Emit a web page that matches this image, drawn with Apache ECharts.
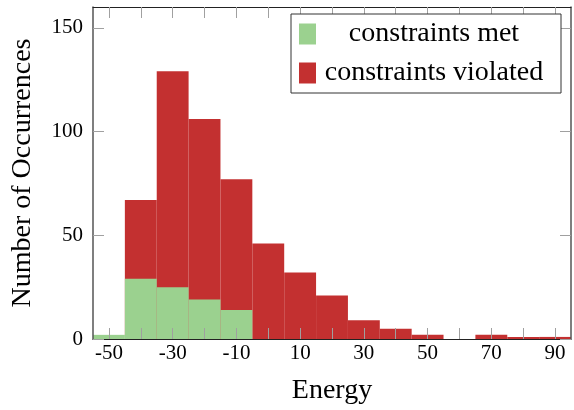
<!DOCTYPE html>
<html>
<head>
<meta charset="utf-8">
<script src="https://cdn.jsdelivr.net/npm/echarts@6/dist/echarts.min.js"></script>
<style>html,body{margin:0;padding:0;background:#fff}#c{width:574px;height:410px}</style>
</head>
<body>
<div id="c"></div>
<script>
// Histogram bin edges (width 10)
const binEdges = [-55, -45, -35, -25, -15, -5, 5, 15, 25, 35, 45, 55, 65, 75, 85, 95];
// counts per bin
const metCounts = [2, 29, 25, 19, 14, 0, 0, 0, 0, 0, 0, 0, 0, 0, 0];
const violatedCounts = [0, 67, 129, 106, 77, 46, 32, 21, 9, 5, 2, 0, 2, 1, 1];
// axis ticks / labels
const xTicks = [-50, -40, -30, -20, -10, 0, 10, 20, 30, 40, 50, 60, 70, 80, 90];
const xLabels = [-50, -30, -10, 10, 30, 50, 70, 90];
const yTicks = [0, 50, 100, 150];
const seriesNames = ['constraints met', 'constraints violated'];
const colors = ['#9bd18f', '#c33030'];

function rows(counts) {
  return counts.map((v, i) => [binEdges[i], binEdges[i + 1], v]);
}
function renderBin(params, api) {
  const v = api.value(2);
  if (!v) return null;
  const p0 = api.coord([api.value(0), 0]);
  const p1 = api.coord([api.value(1), v]);
  return {
    type: 'rect',
    shape: { x: p0[0], y: p1[1], width: p1[0] - p0[0], height: p0[1] - p1[1] },
    style: { fill: api.visual('color') }
  };
}

const FONT = '"Liberation Serif", "Times New Roman", serif';
const chart = echarts.init(document.getElementById('c'), null, { renderer: 'canvas' });
const tickStyle = { show: true, inside: true, length: 11, lineStyle: { color: '#a0a0a0', width: 1 } };

chart.setOption({
  animation: false,
  backgroundColor: '#fff',
  grid: { left: 93, right: 3, top: 7, bottom: 71, containLabel: false },
  legend: {
    data: seriesNames,
    orient: 'vertical',
    left: 291, top: 14,
    padding: [6, 14, 6, 8],
    itemWidth: 17, itemHeight: 21, itemGap: 11,
    icon: 'rect',
    borderColor: '#333', borderWidth: 1, backgroundColor: '#fff',
    textStyle: {
      fontFamily: FONT, fontSize: 28, color: '#000',
      rich: { a: { width: 226, align: 'center', fontFamily: FONT, fontSize: 28, lineHeight: 21, color: '#000' } }
    },
    formatter: n => '{a|' + n + '}',
    z: 20
  },
  xAxis: [{
    type: 'value', min: -55, max: 95, position: 'bottom', z: 10,
    name: 'Energy', nameLocation: 'middle', nameGap: 38,
    nameTextStyle: { fontFamily: FONT, fontSize: 28, color: '#000' },
    axisLine: { show: true, onZero: false, lineStyle: { color: '#222', width: 1 } },
    axisTick: Object.assign({ customValues: xTicks }, tickStyle),
    axisLabel: { customValues: xLabels, fontFamily: FONT, fontSize: 21, color: '#000', margin: 4 },
    splitLine: { show: false }
  }, {
    type: 'value', min: -55, max: 95, position: 'top', z: 10,
    axisLine: { show: true, onZero: false, lineStyle: { color: '#222', width: 1 } },
    axisTick: Object.assign({ customValues: xTicks }, tickStyle),
    axisLabel: { show: false },
    splitLine: { show: false }
  }],
  yAxis: [{
    type: 'value', min: 0, max: 160, position: 'left', z: 10,
    name: 'Number of Occurrences', nameLocation: 'middle', nameGap: 56,
    nameTextStyle: { fontFamily: FONT, fontSize: 28, color: '#000' },
    axisLine: { show: true, onZero: false, lineStyle: { color: '#555', width: 1.5 } },
    axisTick: Object.assign({ customValues: yTicks }, tickStyle),
    axisLabel: { customValues: yTicks, fontFamily: FONT, fontSize: 21, color: '#000', margin: 10 },
    splitLine: { show: false }
  }, {
    type: 'value', min: 0, max: 160, position: 'right', z: 10,
    axisLine: { show: true, onZero: false, lineStyle: { color: '#555', width: 1.5 } },
    axisTick: Object.assign({ customValues: yTicks }, tickStyle),
    axisLabel: { show: false },
    splitLine: { show: false }
  }],
  series: [{
    name: seriesNames[1], type: 'custom', renderItem: renderBin,
    itemStyle: { color: colors[1] },
    encode: { x: [0, 1], y: 2 },
    data: rows(violatedCounts), xAxisIndex: 0, yAxisIndex: 0, z: 2
  }, {
    name: seriesNames[0], type: 'custom', renderItem: renderBin,
    itemStyle: { color: colors[0] },
    encode: { x: [0, 1], y: 2 },
    data: rows(metCounts), xAxisIndex: 0, yAxisIndex: 0, z: 3
  }]
});
</script>
</body>
</html>
